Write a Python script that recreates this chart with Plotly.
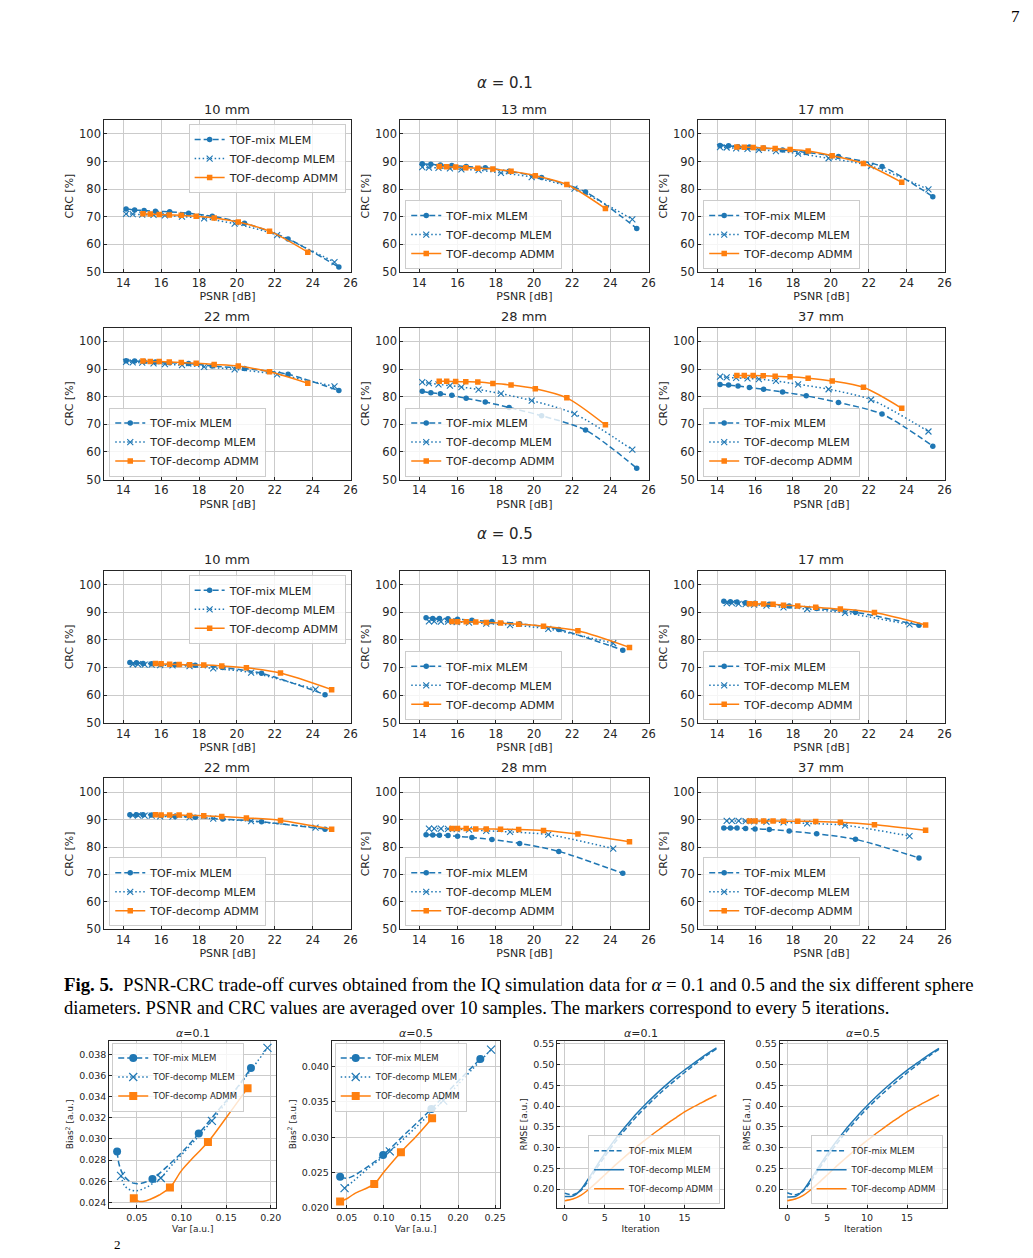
import plotly.graph_objects as go

W, H = 1033, 1258
BLUE, ORANGE = '#1f77b4', '#ff7f0e'
INK = '#262626'
FONT = 'DejaVu Sans'
SERIF = 'Liberation Serif'

# ---------------- data: PSNR-CRC trade-off (markers every 5 iterations) ----------------
series_names = ['TOF-mix MLEM', 'TOF-decomp MLEM', 'TOF-decomp ADMM']
diameters = ['10 mm', '13 mm', '17 mm', '22 mm', '28 mm', '37 mm']

psnr_a01_mix = [14.15, 14.6, 15.1, 15.7, 16.45, 17.45, 18.7, 20.4, 22.7, 25.38]
psnr_a01_dec = [14.15, 14.5, 15.0, 15.6, 16.2, 17.1, 18.27, 19.88, 22.12, 25.15]
psnr_a01_admm = [15.04, 15.43, 15.9, 16.43, 17.06, 17.85, 18.8, 20.07, 21.72, 23.74]

crc_a01_mix = [
    [72.8, 72.5, 72.3, 72.0, 71.8, 71.3, 70.2, 67.7, 62.0, 51.8],
    [89.2, 89.0, 88.8, 88.6, 88.2, 87.8, 86.5, 84.2, 79.0, 65.8],
    [95.8, 95.7, 95.4, 95.3, 94.9, 94.2, 93.3, 91.8, 88.2, 77.3],
    [93.0, 92.9, 92.7, 92.6, 92.3, 92.0, 91.1, 90.2, 88.1, 82.2],
    [82.0, 81.4, 81.1, 80.5, 79.4, 78.1, 76.1, 73.1, 67.9, 54.1],
    [84.4, 84.2, 83.9, 83.3, 82.7, 81.7, 80.3, 77.9, 73.7, 62.1],
]
crc_a01_dec = [
    [71.1, 71.0, 70.8, 70.7, 70.5, 70.1, 69.4, 67.5, 63.4, 53.6],
    [88.0, 87.8, 87.7, 87.5, 87.2, 86.9, 85.9, 84.4, 80.2, 69.1],
    [95.2, 95.1, 94.8, 94.6, 94.2, 93.8, 92.9, 91.2, 88.4, 79.9],
    [92.6, 92.4, 92.3, 92.1, 91.8, 91.4, 90.8, 89.9, 88.1, 83.7],
    [85.3, 84.9, 84.5, 84.0, 83.5, 82.6, 81.1, 78.6, 73.8, 60.8],
    [87.3, 87.0, 86.8, 86.6, 86.4, 85.7, 84.5, 82.7, 78.9, 67.4],
]
crc_a01_admm = [
    [71.1, 71.0, 70.8, 70.7, 70.6, 70.2, 69.6, 68.1, 64.8, 57.2],
    [88.2, 88.1, 88.0, 87.8, 87.6, 87.3, 86.5, 84.9, 81.7, 73.0],
    [95.3, 95.2, 95.1, 94.9, 94.7, 94.4, 93.8, 92.1, 89.3, 82.5],
    [92.9, 92.7, 92.7, 92.6, 92.4, 92.1, 91.7, 91.1, 89.0, 84.9],
    [85.6, 85.6, 85.5, 85.4, 85.3, 84.8, 84.2, 82.9, 79.6, 69.8],
    [87.7, 87.7, 87.7, 87.6, 87.4, 87.2, 86.7, 85.7, 83.4, 75.8],
]

psnr_a05_mix = [14.35, 14.7, 15.05, 15.5, 16.0, 16.75, 17.8, 19.25, 21.3, 24.65]
psnr_a05_dec = [14.5, 14.78, 15.13, 15.5, 15.95, 16.6, 17.5, 18.75, 20.75, 24.15]
psnr_a05_admm = [15.7, 16.0, 16.45, 16.95, 17.5, 18.25, 19.2, 20.5, 22.3, 25.0]

crc_a05_mix = [
    [71.8, 71.7, 71.5, 71.4, 71.2, 71.1, 70.8, 70.0, 67.9, 60.2],
    [88.0, 87.8, 87.8, 87.7, 87.5, 87.1, 86.7, 85.9, 83.8, 76.3],
    [94.0, 93.8, 93.7, 93.5, 93.3, 92.9, 92.3, 91.4, 90.0, 85.3],
    [91.8, 91.8, 91.8, 91.7, 91.5, 91.2, 90.8, 90.2, 89.2, 86.5],
    [84.5, 84.4, 84.3, 84.2, 83.9, 83.5, 82.7, 81.3, 78.4, 70.4],
    [86.9, 86.9, 86.9, 86.7, 86.6, 86.4, 85.8, 84.8, 82.8, 76.0],
]
crc_a05_dec = [
    [71.2, 71.2, 71.1, 71.1, 70.9, 70.8, 70.5, 69.7, 68.2, 62.1],
    [86.7, 86.7, 86.6, 86.6, 86.5, 86.3, 85.9, 85.4, 84.0, 78.8],
    [93.3, 93.3, 93.1, 93.0, 92.8, 92.4, 91.8, 91.2, 89.8, 85.6],
    [91.5, 91.5, 91.4, 91.4, 91.2, 91.1, 90.8, 90.3, 89.4, 87.1],
    [86.7, 86.7, 86.7, 86.6, 86.5, 86.3, 85.9, 85.5, 84.5, 79.4],
    [89.5, 89.5, 89.5, 89.4, 89.3, 89.2, 89.0, 88.6, 87.9, 84.0],
]
crc_a05_admm = [
    [71.5, 71.4, 71.2, 71.1, 71.0, 70.9, 70.6, 69.9, 68.0, 62.0],
    [86.7, 86.6, 86.6, 86.5, 86.3, 86.1, 85.7, 85.0, 83.3, 77.3],
    [93.1, 93.1, 93.0, 92.9, 92.6, 92.3, 91.8, 91.2, 89.9, 85.4],
    [91.8, 91.7, 91.7, 91.7, 91.5, 91.4, 91.1, 90.6, 89.7, 86.5],
    [86.7, 86.7, 86.7, 86.6, 86.6, 86.5, 86.4, 86.0, 84.7, 81.9],
    [89.5, 89.5, 89.5, 89.5, 89.4, 89.4, 89.3, 89.0, 88.1, 86.1],
]

# ---------------- data: Bias^2 vs Var (alpha = 0.1 / 0.5) ----------------
bv01_mix_x = [0.0278, 0.0674, 0.1193, 0.1778]
bv01_mix_y = [0.0288, 0.0262, 0.0305, 0.0367]
bv01_mix_cx = [0.030, 0.034, 0.040, 0.047, 0.055, 0.062, 0.080, 0.100, 0.140, 0.160]
bv01_mix_cy = [0.0276, 0.0267, 0.0261, 0.0258, 0.0258, 0.0260, 0.0271, 0.0287, 0.0326, 0.0346]
bv01_dec_x = [0.0322, 0.0767, 0.134, 0.1963]
bv01_dec_y = [0.0265, 0.0263, 0.0317, 0.0386]
bv01_dec_cx = [0.036, 0.042, 0.050, 0.060, 0.068, 0.090, 0.110, 0.155, 0.175]
bv01_dec_cy = [0.0256, 0.0252, 0.0251, 0.0254, 0.0258, 0.0276, 0.0294, 0.0340, 0.0362]
bv01_admm_x = [0.0465, 0.087, 0.1296, 0.174]
bv01_admm_y = [0.0244, 0.0254, 0.0297, 0.0348]
bv01_admm_cx = [0.052, 0.058, 0.065, 0.075, 0.100, 0.115, 0.150]
bv01_admm_cy = [0.0241, 0.0241, 0.0243, 0.0247, 0.0270, 0.0284, 0.0320]

bv05_mix_x = [0.041, 0.099, 0.164, 0.230]
bv05_mix_y = [0.0244, 0.0275, 0.0340, 0.0411]
bv05_mix_cx = [0.050, 0.060, 0.075, 0.130, 0.195]
bv05_mix_cy = [0.0242, 0.0246, 0.0256, 0.0306, 0.0374]
bv05_dec_x = [0.047, 0.108, 0.180, 0.2445]
bv05_dec_y = [0.0228, 0.0280, 0.0352, 0.0424]
bv05_dec_cx = [0.060, 0.080, 0.140, 0.210]
bv05_dec_cy = [0.0239, 0.0257, 0.0311, 0.0386]
bv05_admm_x = [0.041, 0.087, 0.123, 0.165]
bv05_admm_y = [0.0209, 0.0234, 0.0279, 0.0327]
bv05_admm_cx = [0.050, 0.060, 0.100, 0.145]
bv05_admm_cy = [0.0213, 0.0220, 0.0251, 0.0303]

# ---------------- data: RMSE vs iteration ----------------
iterations = list(range(20))
rmse01_mix = [0.190, 0.186, 0.196, 0.221, 0.250, 0.278, 0.305, 0.330, 0.353, 0.375,
              0.395, 0.414, 0.432, 0.449, 0.465, 0.481, 0.496, 0.511, 0.525, 0.538]
rmse01_dec = [0.182, 0.183, 0.198, 0.226, 0.256, 0.285, 0.312, 0.337, 0.360, 0.382,
              0.402, 0.421, 0.439, 0.456, 0.472, 0.487, 0.501, 0.515, 0.528, 0.540]
rmse01_admm = [0.172, 0.176, 0.185, 0.199, 0.216, 0.234, 0.252, 0.269, 0.286, 0.302,
               0.317, 0.332, 0.346, 0.360, 0.373, 0.386, 0.397, 0.407, 0.417, 0.426]
rmse05_mix = [0.191, 0.186, 0.195, 0.220, 0.249, 0.277, 0.304, 0.329, 0.352, 0.374,
              0.394, 0.413, 0.431, 0.448, 0.464, 0.480, 0.495, 0.510, 0.524, 0.537]
rmse05_dec = [0.181, 0.182, 0.197, 0.225, 0.255, 0.284, 0.311, 0.336, 0.359, 0.381,
              0.401, 0.420, 0.438, 0.455, 0.471, 0.486, 0.500, 0.514, 0.527, 0.539]
rmse05_admm = [0.172, 0.176, 0.185, 0.199, 0.216, 0.234, 0.252, 0.269, 0.286, 0.302,
               0.317, 0.332, 0.346, 0.360, 0.373, 0.386, 0.397, 0.407, 0.417, 0.427]

# ---------------- helpers ----------------
def dom_x(a, b):
    return [a / W, b / W]


def dom_y(a, b):
    return [1 - b / H, 1 - a / H]


def make_axis(domain, anchor, rng, tickvals, title, fs, fmt=None, standoff=3):
    d = dict(domain=domain, anchor=anchor, range=rng, tickvals=tickvals,
             showgrid=True, gridcolor='#cbcbcb', gridwidth=1, zeroline=False,
             showline=True, linecolor=INK, linewidth=1, mirror=True,
             ticks='inside', ticklen=3, tickcolor=INK, tickwidth=1,
             tickfont=dict(family=FONT, size=fs, color=INK),
             title=dict(text=title, font=dict(family=FONT, size=fs, color=INK), standoff=standoff))
    if fmt:
        d['tickformat'] = fmt
    return d


STY = [
    dict(color=BLUE, dash='6px,3px', symbol='circle'),
    dict(color=BLUE, dash='1.5px,2.5px', symbol='x-thin-open'),
    dict(color=ORANGE, dash='solid', symbol='square'),
]

fig = go.Figure()
layout = dict(width=W, height=H, margin=dict(l=0, r=0, t=0, b=0),
              paper_bgcolor='white', plot_bgcolor='white', showlegend=True)
annotations = []


def legend_key(n):
    return 'legend' if n == 1 else 'legend%d' % n


def legend_box(pos_x, pos_y, xanchor, yanchor, fs):
    return dict(x=pos_x / W, y=1 - pos_y / H, xanchor=xanchor, yanchor=yanchor,
                bgcolor='rgba(255,255,255,0.8)', bordercolor='#cccccc', borderwidth=1,
                font=dict(family=FONT, size=fs, color=INK), itemwidth=30,
                tracegroupgap=0)


col_px = [(105, 353), (403, 653), (703, 951)]
row_px = [(119, 272), (328, 481), (573, 726), (782, 934)]

panel = 0
blocks = [
    (0, [psnr_a01_mix, psnr_a01_dec, psnr_a01_admm], [crc_a01_mix, crc_a01_dec, crc_a01_admm]),
    (2, [psnr_a05_mix, psnr_a05_dec, psnr_a05_admm], [crc_a05_mix, crc_a05_dec, crc_a05_admm]),
]
for row0, xs, ys in blocks:
    for k, diam in enumerate(diameters):
        panel += 1
        r = row0 + k // 3
        c = k % 3
        x0, x1 = col_px[c]
        y0, y1 = row_px[r]
        ax = '' if panel == 1 else str(panel)
        lg = legend_key(panel)
        for s in range(3):
            st = STY[s]
            mk = dict(symbol=st['symbol'], size=5.5, color=st['color'])
            if st['symbol'] == 'x-thin-open':
                mk.update(size=6, line=dict(width=1.1, color=st['color']))
            else:
                mk.update(line=dict(width=0))
            fig.add_trace(go.Scatter(
                x=xs[s], y=ys[s][k], name=series_names[s], mode='lines+markers',
                line=dict(color=st['color'], width=1.5, dash=st['dash'], shape='spline', smoothing=0.8),
                marker=mk, xaxis='x' + ax, yaxis='y' + ax, legend=lg))
        layout['xaxis' + ax] = make_axis(dom_x(x0, x1), 'y' + ax, [13, 26], [14, 16, 18, 20, 22, 24, 26],
                                         'PSNR [dB]', 11.5)
        layout['yaxis' + ax] = make_axis(dom_y(y0, y1), 'x' + ax, [50, 105], [50, 60, 70, 80, 90, 100],
                                         'CRC [%]', 11.5)
        layout['xaxis' + ax]['title']['font']['size'] = 11
        layout['yaxis' + ax]['title']['font']['size'] = 11
        if k == 0:
            layout[lg] = legend_box(x1 - 5, y0 + 4, 'right', 'top', 11)
        else:
            layout[lg] = legend_box(x0 + 5, y1 - 3, 'left', 'bottom', 11)
        annotations.append(dict(text=diam, x=(x0 + x1) / 2 / W, y=1 - (y0 - 11) / H, xref='paper', yref='paper',
                                showarrow=False, xanchor='center', yanchor='middle',
                                font=dict(family=FONT, size=13, color=INK)))

# ---------------- bottom row ----------------
bot_cols = [(110, 278), (334, 503), (561, 729), (785, 953)]
bot_y = (1046, 1215)
bot_titles = ['<i>α</i>=0.1', '<i>α</i>=0.5', '<i>α</i>=0.1', '<i>α</i>=0.5']

bv_sets = [
    [(bv01_mix_x, bv01_mix_y, bv01_mix_cx, bv01_mix_cy),
     (bv01_dec_x, bv01_dec_y, bv01_dec_cx, bv01_dec_cy),
     (bv01_admm_x, bv01_admm_y, bv01_admm_cx, bv01_admm_cy)],
    [(bv05_mix_x, bv05_mix_y, bv05_mix_cx, bv05_mix_cy),
     (bv05_dec_x, bv05_dec_y, bv05_dec_cx, bv05_dec_cy),
     (bv05_admm_x, bv05_admm_y, bv05_admm_cx, bv05_admm_cy)],
]
bv_ranges = [([0.019, 0.206], [0.02344, 0.0393], [0.05, 0.10, 0.15, 0.20],
              [0.024, 0.026, 0.028, 0.030, 0.032, 0.034, 0.036, 0.038]),
             ([0.0297, 0.256], [0.01995, 0.0437], [0.05, 0.10, 0.15, 0.20, 0.25],
              [0.020, 0.025, 0.030, 0.035, 0.040])]

for b in range(2):
    panel += 1
    ax = str(panel)
    lg = legend_key(panel)
    x0, x1 = bot_cols[b]
    for s in range(3):
        mx, my, cx, cy = bv_sets[b][s]
        pts = sorted([(v, w, True) for v, w in zip(mx, my)] + [(v, w, False) for v, w in zip(cx, cy)])
        allx = [p[0] for p in pts]
        ally = [p[1] for p in pts]
        sel = [i for i, p in enumerate(pts) if p[2]]
        st = STY[s]
        mk = dict(symbol=st['symbol'], size=8, color=st['color'], line=dict(width=0))
        if st['symbol'] == 'x-thin-open':
            mk.update(size=8, line=dict(width=1.2, color=st['color']))
        fig.add_trace(go.Scatter(
            x=allx, y=ally, name=series_names[s], mode='lines+markers',
            line=dict(color=st['color'], width=1.5, dash=st['dash'], shape='spline', smoothing=1.0),
            marker=mk, selectedpoints=sel,
            selected=dict(marker=dict(opacity=1)), unselected=dict(marker=dict(opacity=0)),
            xaxis='x' + ax, yaxis='y' + ax, legend=lg))
    xr, yr, xt, yt = bv_ranges[b]
    layout['xaxis' + ax] = make_axis(dom_x(x0, x1), 'y' + ax, xr, xt, 'Var [a.u.]', 9.5, '.2f')
    layout['yaxis' + ax] = make_axis(dom_y(*bot_y), 'x' + ax, yr, yt, 'Bias<sup>2</sup> [a.u.]', 9.5, '.3f')
    layout['xaxis' + ax]['title']['font']['size'] = 9
    layout['yaxis' + ax]['title']['font']['size'] = 9
    layout[lg] = legend_box(x0 + 3, bot_y[0] + 2, 'left', 'top', 8.5)

rmse_sets = [(rmse01_mix, rmse01_dec, rmse01_admm), (rmse05_mix, rmse05_dec, rmse05_admm)]
rmse_dash = ['5px,2.5px', 'solid', 'solid']
rmse_col = [BLUE, BLUE, ORANGE]
for b in range(2):
    panel += 1
    ax = str(panel)
    lg = legend_key(panel)
    x0, x1 = bot_cols[2 + b]
    for s in range(3):
        fig.add_trace(go.Scatter(
            x=iterations, y=rmse_sets[b][s], name=series_names[s], mode='lines',
            line=dict(color=rmse_col[s], width=1.5, dash=rmse_dash[s], shape='spline', smoothing=0.6),
            xaxis='x' + ax, yaxis='y' + ax, legend=lg))
    layout['xaxis' + ax] = make_axis(dom_x(x0, x1), 'y' + ax, [-0.95, 19.95], [0, 5, 10, 15], 'Iteration', 9.5)
    layout['yaxis' + ax] = make_axis(dom_y(*bot_y), 'x' + ax, [0.1536, 0.558],
                                     [0.20, 0.25, 0.30, 0.35, 0.40, 0.45, 0.50, 0.55], 'RMSE [a.u.]', 9.5, '.2f')
    layout['xaxis' + ax]['title']['font']['size'] = 9
    layout['yaxis' + ax]['title']['font']['size'] = 9
    layout[lg] = legend_box(x1 - 4, bot_y[1] - 4, 'right', 'bottom', 8.5)

for b in range(4):
    x0, x1 = bot_cols[b]
    annotations.append(dict(text=bot_titles[b], x=(x0 + x1) / 2 / W, y=1 - 1039 / H, xref='paper', yref='paper',
                            showarrow=False, xanchor='center', yanchor='middle',
                            font=dict(family=FONT, size=11, color=INK)))

# ---------------- section titles, caption, page number ----------------
annotations.append(dict(text='<i>α</i> = 0.1', x=508 / W, y=1 - 82 / H, xref='paper', yref='paper',
                        showarrow=False, xanchor='center', yanchor='middle',
                        font=dict(family=FONT, size=15, color=INK)))
annotations.append(dict(text='<i>α</i> = 0.5', x=508 / W, y=1 - 536 / H, xref='paper', yref='paper',
                        showarrow=False, xanchor='center', yanchor='middle',
                        font=dict(family=FONT, size=15, color=INK)))
annotations.append(dict(text='7', x=1029 / W, y=1 - 15 / H, xref='paper', yref='paper',
                        showarrow=False, xanchor='right', yanchor='middle',
                        font=dict(family=SERIF, size=17, color='black')))
annotations.append(dict(
    text='<b>Fig. 5.</b>  PSNR-CRC trade-off curves obtained from the IQ simulation data for <i>α</i> = 0.1 and 0.5 and the six different sphere',
    x=62 / W, y=1 - 990 / H, xref='paper', yref='paper', showarrow=False, xanchor='left', yanchor='middle',
    font=dict(family=SERIF, size=18.8, color='black')))
annotations.append(dict(
    text='diameters. PSNR and CRC values are averaged over 10 samples. The markers correspond to every 5 iterations.',
    x=62 / W, y=1 - 1013 / H, xref='paper', yref='paper', showarrow=False, xanchor='left', yanchor='middle',
    font=dict(family=SERIF, size=18.6, color='black')))
annotations.append(dict(text='2', x=118 / W, y=1 - 1251 / H, xref='paper', yref='paper',
                        showarrow=False, xanchor='center', yanchor='middle',
                        font=dict(family=SERIF, size=13, color='black')))

layout['annotations'] = annotations
fig.update_layout(**layout)
fig.write_html('out.html')
